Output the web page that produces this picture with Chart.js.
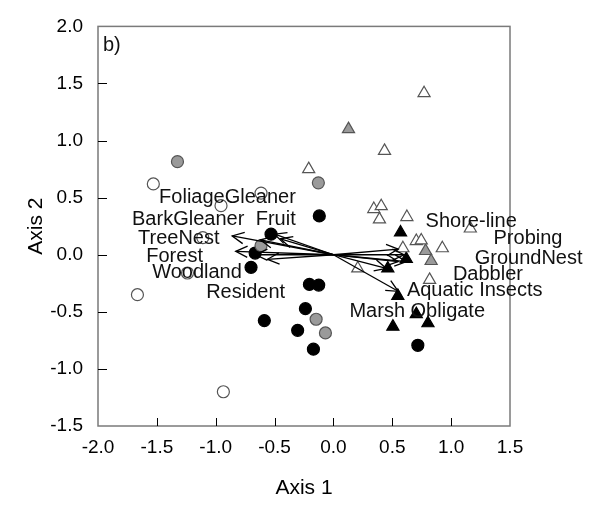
<!DOCTYPE html>
<html>
<head>
<meta charset="utf-8">
<script src="https://cdn.jsdelivr.net/npm/chart.js@4.4.0/dist/chart.umd.min.js"></script>
<style>
  html, body { margin: 0; padding: 0; background: #fff; }
  #wrap { width: 594px; height: 506px; }
</style>
</head>
<body>
<div id="wrap"><canvas id="myChart"></canvas></div>
<script>
// site scores by symbol group [axis1, axis2]
let openCircles = [[-1.53, 0.62], [-0.615, 0.54], [-0.955, 0.43], [-1.11, 0.15], [-1.24, -0.16], [-1.665, -0.35], [-0.935, -1.20]]
let grayCircles = [[-1.325, 0.815], [-0.128, 0.63], [-0.615, 0.08], [-0.147, -0.565], [-0.068, -0.685]]
let blackCircles = [[-0.12, 0.34], [-0.53, 0.18], [-0.665, 0.015], [-0.70, -0.11], [-0.587, -0.577], [-0.304, -0.662],
  [-0.204, -0.26], [-0.125, -0.266], [-0.238, -0.472], [-0.17, -0.827], [0.717, -0.793]]
let openTriangles = [[-0.21, 0.75], [0.434, 0.91], [0.77, 1.415], [0.343, 0.40], [0.406, 0.425], [0.391, 0.31], [0.624, 0.33],
  [1.163, 0.23], [0.704, 0.12], [0.746, 0.125], [0.59, 0.057], [0.925, 0.057], [0.817, -0.22], [0.207, -0.12]]
let grayTriangles = [[0.128, 1.10], [0.783, 0.033], [0.83, -0.055]]
let blackTriangles = [[0.57, 0.195], [0.619, -0.037], [0.462, -0.12], [0.547, -0.36], [0.704, -0.52], [0.505, -0.63], [0.803, -0.60]]

// joint plot vectors (from origin) and where their names sit
let vecNames = ["FoliageGleaner", "BarkGleaner", "Fruit", "TreeNest", "Forest", "Woodland", "Resident",
  "Shore-line", "Probing", "GroundNest", "Dabbler", "Aquatic Insects", "Marsh Obligate"]
let vecX = [-0.50, -0.62, -0.45, -0.86, -0.83, -0.66, -0.56, 0.55, 0.60, 0.62, 0.55, 0.45, 0.55]
let vecY = [0.18, 0.13, 0.14, 0.165, 0.03, 0.0, -0.04, 0.05, 0.0, -0.06, -0.06, -0.12, -0.32]
let labX = [-1.481, -1.711, -0.66, -1.66, -1.59, -1.54, -1.081, 0.783, 1.36, 1.20, 1.015, 0.624, 0.136]
let labY = [0.505, 0.309, 0.309, 0.139, -0.014, -0.158, -0.328, 0.292, 0.139, -0.033, -0.175, -0.317, -0.50]

let xTicks = [-2.0, -1.5, -1.0, -0.5, 0.0, 0.5, 1.0, 1.5]
let yTicks = [-1.5, -1.0, -0.5, 0.0, 0.5, 1.0, 1.5, 2.0]

Chart.defaults.font.family = 'Arial, "Liberation Sans", sans-serif'
Chart.defaults.color = '#000'

function pts(arr) { return arr.map(p => ({x: p[0], y: p[1]})) }

function grp(arr, style, fill, border) {
  return {
    type: 'scatter', data: pts(arr), order: 2,
    pointStyle: style, pointRadius: style == 'triangle' ? 7 : 6,
    backgroundColor: fill, borderColor: border, borderWidth: 1.2
  }
}

let datasets = []
vecNames.forEach((n, i) => {
  datasets.push({
    type: 'line', label: n, data: [{x: 0, y: 0}, {x: vecX[i], y: vecY[i]}], order: 1,
    borderColor: '#000', borderWidth: 1.3, pointRadius: 0, fill: false, isVector: true
  })
})
datasets.push(grp(openCircles, 'circle', '#fff', '#555'))
datasets.push(grp(grayCircles, 'circle', '#9a9a9a', '#555'))
datasets.push(grp(blackCircles, 'circle', '#000', '#000'))
datasets.push(grp(openTriangles, 'triangle', '#fff', '#555'))
datasets.push(grp(grayTriangles, 'triangle', '#9a9a9a', '#555'))
datasets.push(grp(blackTriangles, 'triangle', '#000', '#000'))

// box around the plot + inward tick marks
const frame = {
  id: 'frame',
  beforeDatasetsDraw(chart) {
    const {ctx, chartArea: a, scales: {x, y}} = chart
    ctx.save()
    ctx.strokeStyle = '#7a7a7a'
    ctx.lineWidth = 1.5
    ctx.strokeRect(a.left, a.top, a.right - a.left, a.bottom - a.top)
    ctx.strokeStyle = '#000'
    ctx.lineWidth = 1
    ctx.beginPath()
    xTicks.forEach(v => {
      if (v <= x.min || v >= x.max) return
      let px = Math.round(x.getPixelForValue(v)) + 0.5
      ctx.moveTo(px, a.bottom)
      ctx.lineTo(px, a.bottom - 8)
    })
    yTicks.forEach(v => {
      if (v <= y.min || v >= y.max) return
      let py = Math.round(y.getPixelForValue(v)) + 0.5
      ctx.moveTo(a.left, py)
      ctx.lineTo(a.left + 9, py)
    })
    ctx.stroke()
    ctx.restore()
  }
}

// arrow heads, vector names and the panel letter
const labels = {
  id: 'labels',
  afterDatasetsDraw(chart) {
    const {ctx, chartArea: a, scales: {x, y}} = chart
    ctx.save()
    ctx.strokeStyle = '#000'
    ctx.lineWidth = 1.3
    chart.data.datasets.forEach((ds, i) => {
      if (!ds.isVector) return
      let m = chart.getDatasetMeta(i).data
      let x0 = m[0].x, y0 = m[0].y, x1 = m[1].x, y1 = m[1].y
      let ang = Math.atan2(y1 - y0, x1 - x0), L = 13, w = 0.45
      ctx.beginPath()
      ctx.moveTo(x1 - L * Math.cos(ang - w), y1 - L * Math.sin(ang - w))
      ctx.lineTo(x1, y1)
      ctx.lineTo(x1 - L * Math.cos(ang + w), y1 - L * Math.sin(ang + w))
      ctx.stroke()
    })
    ctx.fillStyle = '#111'
    ctx.font = '20px Arial, "Liberation Sans", sans-serif'
    ctx.textAlign = 'left'
    ctx.textBaseline = 'middle'
    vecNames.forEach((n, i) => {
      ctx.fillText(n, x.getPixelForValue(labX[i]), y.getPixelForValue(labY[i]))
    })
    ctx.fillText('b)', a.left + 5, a.top + 19)
    ctx.restore()
  }
}

let ctx = document.getElementById('myChart').getContext('2d')
let myChart = new Chart(ctx, {
  type: 'scatter',
  data: {datasets: datasets},
  options: {
    responsive: true,
    maintainAspectRatio: false,
    animation: false,
    layout: {padding: {left: 0, top: 14, right: 84, bottom: 0}},
    plugins: {legend: {display: false}, tooltip: {enabled: false}},
    scales: {
      x: {
        type: 'linear', min: -2, max: 1.5,
        afterBuildTicks: s => { s.ticks = xTicks.map(v => ({value: v})) },
        afterFit: s => { s.height = 80 },
        grid: {display: false, drawTicks: false},
        border: {display: false},
        ticks: {callback: v => v.toFixed(1), font: {size: 19}, color: '#000', padding: 10, maxRotation: 0, autoSkip: false},
        title: {display: true, text: 'Axis 1', font: {size: 21}, color: '#000', padding: {top: 0, bottom: 5}}
      },
      y: {
        type: 'linear', min: -1.5, max: 2,
        afterBuildTicks: s => { s.ticks = yTicks.map(v => ({value: v})) },
        afterFit: s => { s.width = 98 },
        grid: {display: false, drawTicks: false},
        border: {display: false},
        ticks: {callback: v => v.toFixed(1), font: {size: 19}, color: '#000', padding: 15, autoSkip: false},
        title: {display: true, text: 'Axis 2', font: {size: 21}, color: '#000', padding: {top: 24, bottom: 0}}
      }
    }
  },
  plugins: [frame, labels]
})
</script>
</body>
</html>
